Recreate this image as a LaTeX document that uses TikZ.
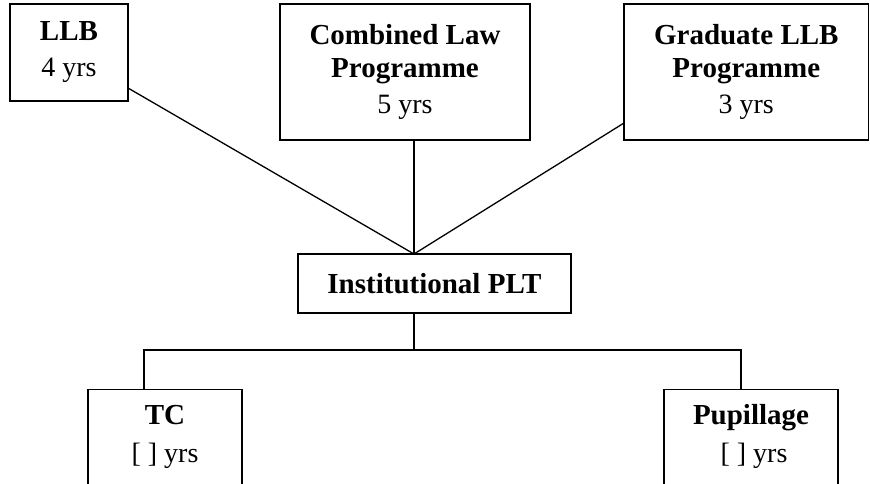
\documentclass[tikz,border=0pt]{standalone}
\usepackage{fontspec}
\setmainfont{Liberation Serif}
\newcommand\boxhead[1]{{\bfseries #1}}
\newcommand\boxyears[1]{{\fontsize{28}{33}\selectfont #1}}
\begin{document}
\begin{tikzpicture}[x=1pt, y=-1pt, line width=1.3pt,
  box/.style={draw, inner sep=0pt, align=center, font=\fontsize{29}{33}\selectfont},
  openbox/.style={draw, inner sep=0pt, anchor=north, font=\fontsize{29}{33}\selectfont}]
\useasboundingbox (0,0) rectangle (870,483);
\clip (0,0) rectangle (870,483);

% degree routes
\node[box, minimum width=118pt, minimum height=97pt] (llb) at (69,52.5)
  {\boxhead{LLB}\\[3pt]\boxyears{4 yrs}};
\node[box, minimum width=250pt, minimum height=136pt] (clp) at (405,72)
  {\boxhead{Combined Law}\\\boxhead{Programme}\\[3pt]\boxyears{5 yrs}};
\node[box, minimum width=244.5pt, minimum height=136pt] (glp) at (746.3,72)
  {\boxhead{Graduate LLB}\\\boxhead{Programme}\\[3pt]\boxyears{3 yrs}};

% vocational stage
\node[box, minimum width=273pt, minimum height=59pt] (plt) at (434.5,283.5)
  {\boxhead{Institutional PLT}};

% training routes (boxes run past the lower edge)
\node[openbox] (tc) at (165,389)
  {\parbox[t][140pt][t]{154pt}{\centering\rule{0pt}{35pt}\boxhead{TC}\\[5pt]\boxyears{[ ] yrs}}};
\node[openbox] (pup) at (751,389)
  {\parbox[t][140pt][t]{174pt}{\centering\rule{0pt}{35pt}\boxhead{Pupillage}\\[5pt]\boxyears{\hspace{6pt}[ ] yrs}}};

% connector ends
\coordinate (llbOut) at (128,88);
\coordinate (clpOut) at (414,140);
\coordinate (glpOut) at (624,123);
\coordinate (hub) at (414,254);
\coordinate (pltOut) at (414,313);
\coordinate (split) at (414,350);
\coordinate (tcIn) at (144,389);
\coordinate (pupIn) at (741,389);

\draw (llbOut) -- (hub);
\draw (clpOut) -- (hub);
\draw (glpOut) -- (hub);
\draw (pltOut) -- (split);
\draw (tcIn) -- (tcIn |- split) -- (pupIn |- split) -- (pupIn);
\end{tikzpicture}
\end{document}
